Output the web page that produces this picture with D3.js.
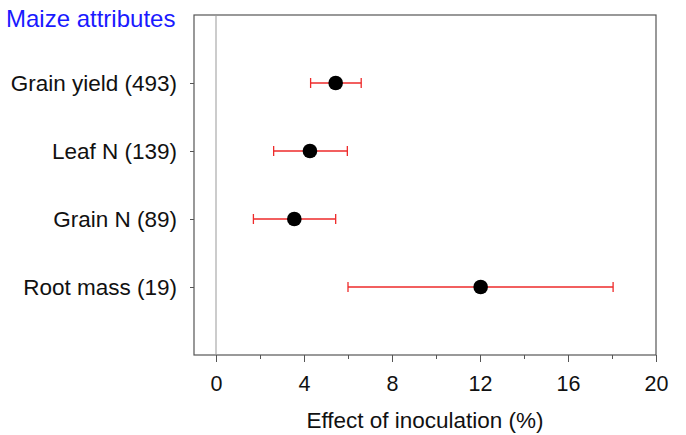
<!DOCTYPE html>
<head>
<meta charset="utf-8">
<title>Maize attributes</title>
<style>
  body { margin: 0; background: #fff; }
  text { font-family: "Liberation Sans", Arial, sans-serif; }
</style>
</head>
<body>
<script src="https://cdn.jsdelivr.net/npm/d3@7"></script>
<script>
// data
const labels = ["Grain yield (493)", "Leaf N (139)", "Grain N (89)", "Root mass (19)"];
const effect = [5.44, 4.27, 3.56, 12.03];
const lower = [4.3, 2.62, 1.7, 6.0];
const upper = [6.6, 5.97, 5.44, 18.05];
const xTicks = [0, 4, 8, 12, 16, 20];

const width = 686, height = 435;
const plotLeft = 194, plotRight = 656, plotTop = 15, plotBottom = 355;

const svg = d3.select("body").append("svg")
    .attr("width", width)
    .attr("height", height);

const x = d3.scaleLinear().domain([-1, 20]).range([plotLeft, plotRight]);
const y = d3.scaleLinear().domain([0, 5]).range([plotTop, plotBottom]);

// frame
svg.append("rect")
    .attr("x", plotLeft).attr("y", plotTop)
    .attr("width", plotRight - plotLeft).attr("height", plotBottom - plotTop)
    .attr("fill", "none").attr("stroke", "#555").attr("stroke-width", 1.2);

// zero line
svg.append("line")
    .attr("x1", x(0)).attr("x2", x(0))
    .attr("y1", plotTop).attr("y2", plotBottom)
    .attr("stroke", "#999").attr("stroke-width", 1);

// x axis
const xAxis = svg.append("g")
    .attr("transform", `translate(0,${plotBottom})`)
    .call(d3.axisBottom(x).tickValues(xTicks).tickSize(7).tickPadding(14));
xAxis.select(".domain").remove();
xAxis.selectAll(".tick line").attr("stroke", "#555");
xAxis.selectAll(".tick text").attr("font-size", 21.5).attr("fill", "#111")
    .style("font-family", "'Liberation Sans', Arial, sans-serif");

// minor ticks
svg.append("g")
    .attr("transform", `translate(0,${plotBottom})`)
    .call(d3.axisBottom(x).tickValues([2, 6, 10, 14, 18]).tickSize(4).tickFormat(""))
    .call(g => g.select(".domain").remove())
    .selectAll(".tick line").attr("stroke", "#555");

// y axis
const yAxis = svg.append("g")
    .attr("transform", `translate(${plotLeft},0)`)
    .call(d3.axisLeft(y).tickValues([1, 2, 3, 4]).tickSize(4).tickPadding(13)
        .tickFormat(d => labels[d - 1]));
yAxis.select(".domain").remove();
yAxis.selectAll(".tick line").attr("stroke", "#555");
yAxis.selectAll(".tick text").attr("font-size", 22.5).attr("fill", "#111")
    .style("font-family", "'Liberation Sans', Arial, sans-serif");

// error bars
const rows = labels.map((l, i) => ({ i, v: effect[i], lo: lower[i], hi: upper[i] }));
const bars = svg.append("g").attr("stroke", "#ee2a2a").attr("stroke-width", 1.3);
bars.selectAll(".whisker").data(rows).join("line")
    .attr("x1", d => x(d.lo)).attr("x2", d => x(d.hi))
    .attr("y1", d => y(d.i + 1)).attr("y2", d => y(d.i + 1));
bars.selectAll(".capl").data(rows).join("line")
    .attr("x1", d => x(d.lo)).attr("x2", d => x(d.lo))
    .attr("y1", d => y(d.i + 1) - 5).attr("y2", d => y(d.i + 1) + 5);
bars.selectAll(".caph").data(rows).join("line")
    .attr("x1", d => x(d.hi)).attr("x2", d => x(d.hi))
    .attr("y1", d => y(d.i + 1) - 5).attr("y2", d => y(d.i + 1) + 5);

// points
svg.append("g").selectAll("circle").data(rows).join("circle")
    .attr("cx", d => x(d.v)).attr("cy", d => y(d.i + 1))
    .attr("r", 7.3).attr("fill", "#000");

// titles
svg.append("text")
    .attr("x", 6).attr("y", 27)
    .attr("font-size", 24).attr("fill", "#1a1aff")
    .text("Maize attributes");

svg.append("text")
    .attr("x", (plotLeft + plotRight) / 2).attr("y", 428)
    .attr("text-anchor", "middle").attr("font-size", 22.5).attr("fill", "#111")
    .text("Effect of inoculation (%)");
</script>
</body>
